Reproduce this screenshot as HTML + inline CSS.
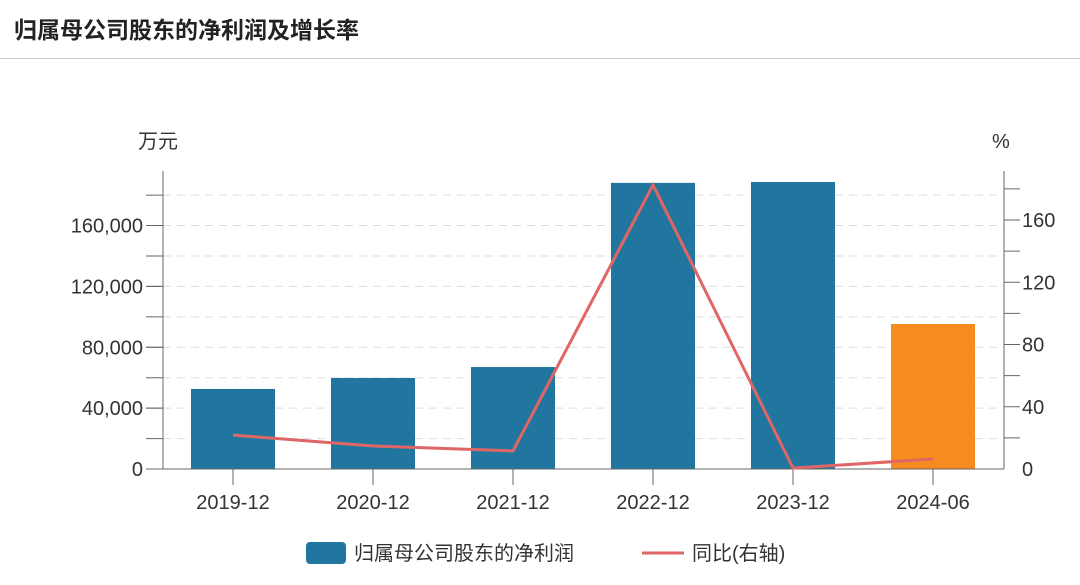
<!DOCTYPE html>
<html><head><meta charset="utf-8"><style>
body{margin:0;background:#fff;font-family:"Liberation Sans","Noto Sans CJK SC",sans-serif;}
</style></head><body>
<svg width="1080" height="580" xmlns="http://www.w3.org/2000/svg" style="font-family:'Liberation Sans','Noto Sans CJK SC',sans-serif">
<text x="14" y="38" font-size="23" font-weight="bold" fill="#222">归属母公司股东的净利润及增长率</text>
<line x1="0" y1="58.5" x2="1080" y2="58.5" stroke="#ccc"/>
<text x="138" y="148" font-size="20" fill="#333">万元</text>
<text x="992" y="148" font-size="20" fill="#333">%</text>
<g id="grid"></g><g id="bars"></g><g id="axes"></g><g id="line"></g>
<g>
<rect x="306" y="542" width="40" height="22" rx="4" fill="#21769f"/>
<text x="354" y="560" font-size="20" fill="#333">归属母公司股东的净利润</text>
<line x1="642" y1="553" x2="684" y2="553" stroke="#e06666" stroke-width="3"/>
<text x="692" y="560" font-size="20" fill="#333">同比(右轴)</text>
</g>
</svg>
<script>
const categories=["2019-12","2020-12","2021-12","2022-12","2023-12","2024-06"];
const profit=[52600,59800,67000,188000,188600,95300];
const yoy=[21.8,14.8,11.6,182.5,0.6,6.4];
const leftTicks=[0,40000,80000,120000,160000];
const rightTicks=[0,40,80,120,160];
const NS="http://www.w3.org/2000/svg";
const X0=163,X1=1004,Y0=469;
const yL=v=>Y0-v*243.5/160000;
const yR=v=>Y0-v*249/160;
const xC=i=>233+i*140;
function mk(t,a,p){const e=document.createElementNS(NS,t);for(const k in a)e.setAttribute(k,a[k]);p.appendChild(e);return e;}
const g=document.getElementById('grid'),b=document.getElementById('bars'),ax=document.getElementById('axes'),ln=document.getElementById('line');
for(let v=20000;v<=180000;v+=20000){const l=mk('line',{x1:X0,x2:X1,y1:yL(v),y2:yL(v),stroke:'#ddd','stroke-dasharray':'8,6'},g);


const t=mk('line',{x1:X0-17,x2:X0,y1:yL(v),y2:yL(v),stroke:'#666'},ax);

}
for(let v=20;v<=180;v+=20){const t=mk('line',{x1:X1,x2:X1+16,y1:yR(v),y2:yR(v),stroke:'#666'},ax);

}
leftTicks.forEach(v=>{const t=mk('text',{x:X0-20,y:yL(v)+7,'font-size':20,fill:'#333','text-anchor':'end'},ax);t.textContent=v.toLocaleString('en-US');


mk('line',{x1:X0-17,x2:X0,y1:yL(v),y2:yL(v),stroke:'#666'},ax);});
rightTicks.forEach(v=>{const t=mk('text',{x:X1+18,y:yR(v)+7,'font-size':20,fill:'#333'},ax);t.textContent=v;

});
categories.forEach((c,i)=>{const r=mk('rect',{x:xC(i)-42,y:yL(profit[i]),width:84,height:Y0-yL(profit[i]),fill:i==5?'#f68b1f':'#21769f'},b);


const t=mk('text',{x:xC(i),y:509,'font-size':20,fill:'#333','text-anchor':'middle'},ax);t.textContent=c;


mk('line',{x1:xC(i),x2:xC(i),y1:Y0,y2:Y0+16,stroke:'#666'},ax);});
const la=mk('line',{x1:X0,x2:X0,y1:171,y2:Y0,stroke:'#666'},ax);


const ra=mk('line',{x1:X1,x2:X1,y1:171,y2:Y0,stroke:'#666'},ax);


const xa=mk('line',{x1:X0,x2:X1,y1:Y0,y2:Y0,stroke:'#666'},ax);


const pl=mk('polyline',{points:yoy.map((v,i)=>xC(i)+','+yR(v)).join(' '),fill:'none',stroke:'#e06666','stroke-width':3},ln);


</script>
</body></html>
